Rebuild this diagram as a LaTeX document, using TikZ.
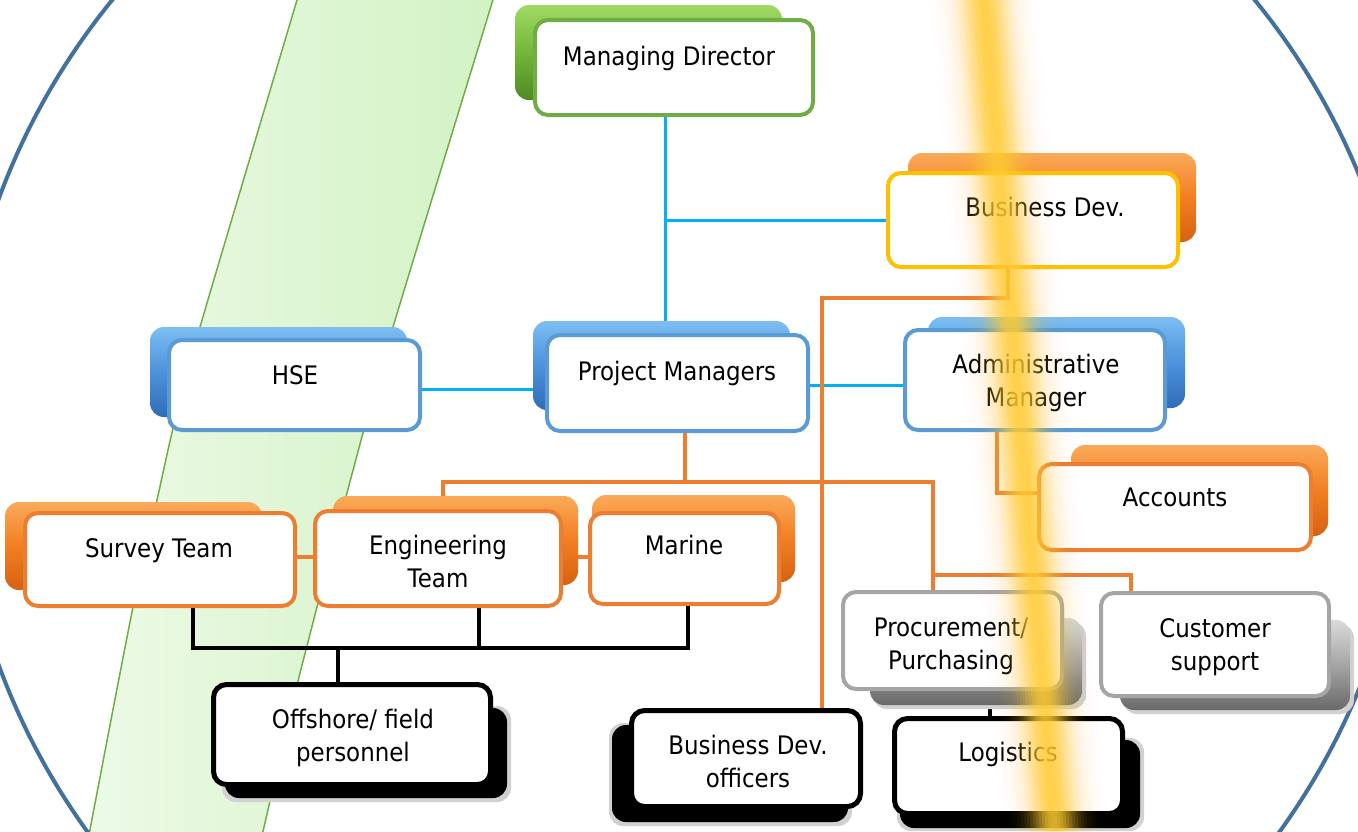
\documentclass[tikz,border=0pt]{standalone}
\usepackage{fontspec}
\setmainfont{DejaVu Sans}[FakeStretch=0.9]
\usetikzlibrary{calc}
\pgfdeclarelayer{lzero}
\pgfdeclarelayer{lone}
\pgfdeclarelayer{ltwo}
\pgfdeclarelayer{ltop}
\pgfsetlayers{lzero,lone,ltwo,main,ltop}
\definecolor{ellblue}{RGB}{65,113,156}
\definecolor{cyanl}{RGB}{0,176,240}
\definecolor{orl}{RGB}{237,125,49}
\definecolor{grnb}{RGB}{112,173,71}
\definecolor{goldb}{RGB}{255,192,0}
\definecolor{blub}{RGB}{91,155,213}
\definecolor{gryb}{RGB}{165,165,165}
\definecolor{bandc}{RGB}{255,204,50}
\definecolor{gbl}{RGB}{236,250,230}
\definecolor{gbr}{RGB}{210,242,196}
\definecolor{gbedge}{RGB}{112,173,71}
\begin{document}
\begin{tikzpicture}[x=1pt,y=-1pt,
  fbox/.style={draw, line width=4pt, rounded corners=13pt, fill=white, inner sep=0pt, anchor=north west},
  lbl/.style={font=\fontsize{25.5}{33}\selectfont, align=center, anchor=base, inner sep=0pt},
  cline/.style={draw=cyanl, line width=3pt},
  oline/.style={draw=orl, line width=4pt},
  kline/.style={draw=black, line width=4.5pt},
  backb/.style={rounded corners=14pt},
  glgreen/.style={backb, top color={rgb,255:red,160;green,218;blue,100}, bottom color={rgb,255:red,78;green,138;blue,34}, middle color={rgb,255:red,115;green,182;blue,58}},
  glorange/.style={backb, top color={rgb,255:red,250;green,170;blue,90}, bottom color={rgb,255:red,212;green,98;blue,18}, middle color={rgb,255:red,243;green,126;blue,34}},
  glblue/.style={backb, top color={rgb,255:red,125;green,190;blue,242}, bottom color={rgb,255:red,48;green,108;blue,182}, middle color={rgb,255:red,76;green,146;blue,220}},
  glgray/.style={backb, top color={rgb,255:red,218;green,218;blue,218}, bottom color={rgb,255:red,105;green,105;blue,105}, middle color={rgb,255:red,165;green,165;blue,165}},
  glblack/.style={backb, fill=black},
  halo/.style={backb, fill=black!18},
]
\begin{pgfonlayer}{lzero}
\fill[white] (0,0) rectangle (1358,831);
\begin{scope}
\clip (0,0) rectangle (1358,831);
% green band
\shade[left color=gbl, right color=gbr]
  plot[smooth] coordinates {(300,-10) (200,327) (175,420) (157,500) (133,607) (88,840)}
  -- plot[smooth] coordinates {(261,840) (300,673) (317,607) (363,433) (393,327) (496,-10)} -- cycle;
\draw[gbedge, line width=1.5pt] plot[smooth] coordinates {(300,-10) (200,327) (175,420) (157,500) (133,607) (88,840)};
\draw[gbedge, line width=1.5pt] plot[smooth] coordinates {(261,840) (300,673) (317,607) (363,433) (393,327) (496,-10)};
% big ellipse
\draw[ellblue, line width=4pt] (683.5,432) ellipse [x radius=726, y radius=700];
\end{scope}
\end{pgfonlayer}
\useasboundingbox (0,0) rectangle (1358,831);

% back boxes
\begin{pgfonlayer}{ltwo}
\shade[glgreen] (515,5) rectangle (782,100);
\shade[glorange] (908,153) rectangle (1196,242);
\shade[glblue] (150,327) rectangle (407,417);
\shade[glblue] (533,321) rectangle (790,410);
\shade[glblue] (928,317) rectangle (1185,408);
\shade[glorange] (1071,445) rectangle (1328,536);
\shade[glorange] (5,502) rectangle (262,590);
\shade[glorange] (333,496) rectangle (578,585);
\shade[glorange] (592,495) rectangle (795,582);
\fill[halo] (873,622) rectangle (1086,709);
\shade[glgray] (870,618) rectangle (1082,705);
\fill[halo] (1123,624) rectangle (1354,714);
\shade[glgray] (1120,620) rectangle (1350,710);
\fill[halo] (222,706) rectangle (511,802);
\fill[glblack] (225,708) rectangle (507,798);
\fill[halo] (609,723) rectangle (852,826);
\fill[glblack] (612,725) rectangle (848,822);
\fill[halo] (897,738) rectangle (1144,831);
\fill[glblack] (900,740) rectangle (1140,828);
\end{pgfonlayer}

% front boxes
\node[fbox, draw=grnb, minimum width=278pt, minimum height=95pt] (md) at (533,18) {};
\node[fbox, draw=goldb, minimum width=290pt, minimum height=94pt] (bd) at (886,171) {};
\node[fbox, draw=blub, minimum width=251pt, minimum height=90pt] (hse) at (167,338) {};
\node[fbox, draw=blub, minimum width=261pt, minimum height=96pt] (pm) at (545,333) {};
\node[fbox, draw=blub, minimum width=260pt, minimum height=100pt] (adm) at (903,328) {};
\node[fbox, draw=orl, minimum width=272pt, minimum height=86pt] (acc) at (1037,462) {};
\node[fbox, draw=orl, minimum width=270pt, minimum height=93pt] (sur) at (23,511) {};
\node[fbox, draw=orl, minimum width=246pt, minimum height=95pt] (eng) at (313,509) {};
\node[fbox, draw=orl, minimum width=189pt, minimum height=91pt] (mar) at (588,511) {};
\node[fbox, draw=gryb, minimum width=219pt, minimum height=97pt] (pro) at (841,590) {};
\node[fbox, draw=gryb, minimum width=228pt, minimum height=103pt] (cus) at (1099,591) {};
\node[fbox, draw=black, line width=5pt, minimum width=277pt, minimum height=100pt] (off) at (211,682) {};
\node[fbox, draw=black, line width=5pt, minimum width=229pt, minimum height=96pt] (bdo) at (629,708) {};
\node[fbox, draw=black, line width=5pt, minimum width=228pt, minimum height=95pt] (log) at (892,716) {};

% texts (anchor base = last line baseline)
\node[lbl] (tmd) at (669,65) {Managing Director};
\node[lbl] (tbd) at (1045,216) {Business Dev.};
\node[lbl] (thse) at (295,384) {HSE};
\node[lbl] (tpm) at (677,380) {Project Managers};
\node[lbl] (tadm) at (1036,406) {Administrative\\Manager};
\node[lbl] (tacc) at (1175,506) {Accounts};
\node[lbl] (tsur) at (159,557) {Survey Team};
\node[lbl] (teng) at (438,587) {Engineering\\Team};
\node[lbl] (tmar) at (684,554) {Marine};
\node[lbl] (tpro) at (951,669) {Procurement/\\Purchasing};
\node[lbl] (tcus) at (1215,670) {Customer\\support};
\node[lbl] (toff) at (353,761) {Offshore/ field\\personnel};
\node[lbl] (tbdo) at (748,787) {Business Dev.\\officers};
\node[lbl] (tlog) at (1008,761) {Logistics};

% connector junctions
\coordinate (cj) at (665,220);
\coordinate (hy) at (0,389);
\coordinate (py) at (0,385);
\coordinate (ob) at (685,482);
\coordinate (oL) at (443,482);
\coordinate (oR) at (933,482);
\coordinate (oR2) at (933,575);
\coordinate (oC) at (1131,575);
\coordinate (bj) at (1008,298);
\coordinate (bk) at (822,298);
\coordinate (aj) at (997,493);
\coordinate (ty) at (0,557);
\coordinate (ks) at (193,648);
\coordinate (ke) at (479,648);
\coordinate (km) at (688,648);
\coordinate (ko) at (338,648);
\coordinate (kl) at (990,700);

\begin{pgfonlayer}{lone}
\draw[cline] (md.south -| cj) -- (pm.north -| cj);
\draw[cline] (cj) -- (bd.west |- cj);
\draw[cline] (hse.east |- hy) -- (pm.west |- hy);
\draw[cline] (pm.east |- py) -- (adm.west |- py);
\draw[oline] (pm.south -| ob) -- (ob);
\draw[oline] (eng.north -| oL) -- (oL) -- (oR) -- (pro.north -| oR);
\draw[oline] (oR2) -- (oC) -- (cus.north -| oC);
\draw[oline] (bd.south -| bj) -- (bj) -- (bk) -- (bdo.north -| bk);
\draw[oline] (adm.south -| aj) -- (aj) -- (acc.west |- aj);
\draw[oline] (sur.east |- ty) -- (mar.west |- ty);
\draw[kline] (sur.south -| ks) -- (ks) -- (km) -- (mar.south -| km);
\draw[kline] (eng.south -| ke) -- (ke);
\draw[kline] (ko) -- (off.north -| ko);
\draw[kline] (pro.south -| kl) -- (log.north -| kl);
\end{pgfonlayer}

% yellow glowing band on top
\begin{pgfonlayer}{ltop}
\foreach \w in {60,57,...,3}{
  \pgfmathsetmacro\al{1-(1-0.86*exp(-((\w-1.5)/23)^2))/(1-0.86*exp(-((\w+1.5)/23)^2))}
  \fill[bandc, opacity=\al] ({984-\w},0) -- ({984+\w},0) -- ({1055+\w},831) -- ({1055-\w},831) -- cycle;
}
\end{pgfonlayer}
\end{tikzpicture}
\end{document}
